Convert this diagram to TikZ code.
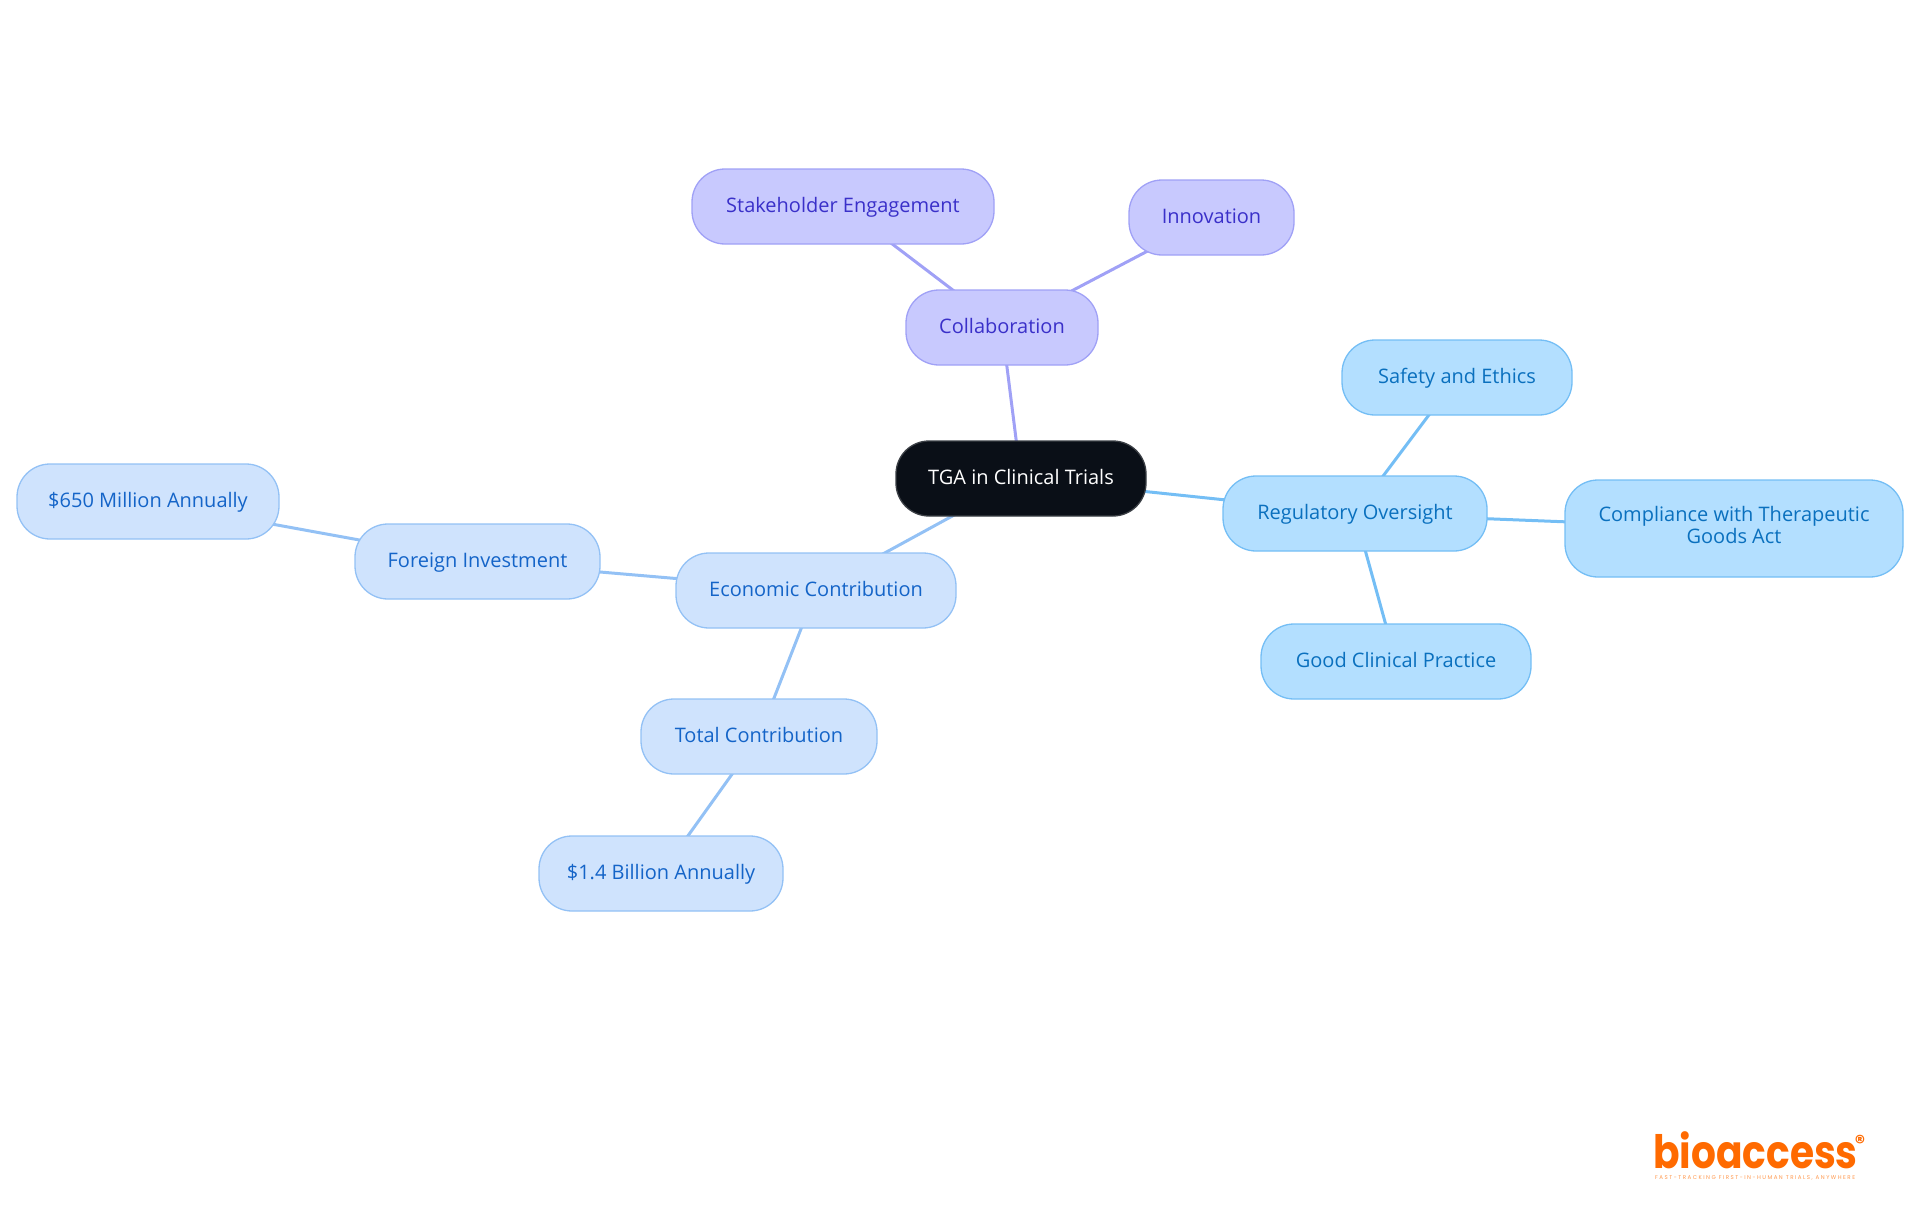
\documentclass[tikz,border=0pt]{standalone}
\usepackage{fontspec}
\setmainfont{Open Sans}
\newfontfamily\logofont{Poppins}[BoldFont={* Bold}]
\usetikzlibrary{backgrounds}
\definecolor{rootfill}{HTML}{0A0F17}
\definecolor{violetfill}{HTML}{C8C9FE}
\definecolor{violetline}{HTML}{A0A1F6}
\definecolor{violettext}{HTML}{3A30C9}
\definecolor{bluefill}{HTML}{CFE3FD}
\definecolor{blueline}{HTML}{93C1F5}
\definecolor{bluetext}{HTML}{1464C8}
\definecolor{skyfill}{HTML}{B3DFFF}
\definecolor{skyline}{HTML}{74BEF5}
\definecolor{skytext}{HTML}{0A70BE}
\definecolor{logoorange}{HTML}{FF6A00}
\begin{document}
\begin{tikzpicture}[x=1pt,y=-1pt,
    pill/.style={rounded corners=33pt, line width=1.3pt, inner sep=0pt, minimum height=75pt,
        text height=15pt, text depth=3.4pt,
        align=center, font=\fontsize{20}{22}\selectfont},
    rootpill/.style={pill, draw=rootfill!80!white, fill=rootfill, text=white},
    violetpill/.style={pill, draw=violetline, fill=violetfill, text=violettext},
    bluepill/.style={pill, draw=blueline, fill=bluefill, text=bluetext},
    skypill/.style={pill, draw=skyline, fill=skyfill, text=skytext},
    violetlink/.style={line width=3pt, violetline},
    bluelink/.style={line width=3pt, blueline},
    skylink/.style={line width=3pt, skyline}]
    \useasboundingbox (0,0) rectangle (1920,1215);

    % root
    \node[rootpill, minimum width=250pt] (root) at (1021,478.5) {TGA in Clinical Trials};

    % collaboration
    \node[violetpill, minimum width=302pt] (stake) at (843,206.5) {Stakeholder Engagement};
    \node[violetpill, minimum width=165pt] (innov) at (1211.5,217.5) {Innovation};
    \node[violetpill, minimum width=192pt] (collab) at (1002,327.5) {Collaboration};

    % regulatory
    \node[skypill, minimum width=264pt] (reg) at (1355,513.5) {Regulatory Oversight};
    \node[skypill, minimum width=230pt] (safety) at (1457,377.5) {Safety and Ethics};
    \node[skypill, minimum width=338pt, minimum height=97pt, text height=32.4pt] (comply) at (1734,528.5) {Compliance with Therapeutic\\Goods Act};
    \node[skypill, minimum width=270pt] (gcp) at (1396,661.5) {Good Clinical Practice};

    % economic
    \node[bluepill, minimum width=280pt] (econ) at (816,590.5) {Economic Contribution};
    \node[bluepill, minimum width=245pt] (foreign) at (477.5,561.5) {Foreign Investment};
    \node[bluepill, minimum width=262pt] (million) at (148,501.5) {\$650 Million Annually};
    \node[bluepill, minimum width=236pt] (total) at (759,736.5) {Total Contribution};
    \node[bluepill, minimum width=244pt] (billion) at (661,873.5) {\$1.4 Billion Annually};

    % connectors
    \begin{scope}[on background layer]
        \draw[violetlink] (root.center) -- (collab.center);
        \draw[violetlink] (collab.center) -- (stake.center);
        \draw[violetlink] (collab.center) -- (innov.center);
        \draw[skylink] (root.center) -- (reg.center);
        \draw[skylink] (reg.center) -- (safety.center);
        \draw[skylink] (reg.center) -- (comply.center);
        \draw[skylink] (reg.center) -- (gcp.center);
        \draw[bluelink] (root.center) -- (econ.center);
        \draw[bluelink] (econ.center) -- (foreign.center);
        \draw[bluelink] (foreign.center) -- (million.center);
        \draw[bluelink] (econ.center) -- (total.center);
        \draw[bluelink] (total.center) -- (billion.center);
    \end{scope}

    % logo
    \node[anchor=base west, inner sep=0pt, text depth=0pt, xscale=0.85, transform shape, text=logoorange, font=\logofont\bfseries\fontsize{46}{46}\selectfont] (logo) at (1653,1168) {bioaccess};
    \node[anchor=west, inner sep=0pt, text height=4pt, text depth=0pt, text=logoorange!70, font=\logofont\fontsize{5.5}{6}\selectfont\addfontfeature{LetterSpace=27}] (claim) at (1655,1177) {FAST-TRACKING FIRST-IN-HUMAN TRIALS, ANYWHERE};
    \node[anchor=center, inner sep=0pt, text=logoorange, font=\logofont\bfseries\fontsize{20}{20}\selectfont] (mark) at (1860,1142) {®};
\end{tikzpicture}
\end{document}
